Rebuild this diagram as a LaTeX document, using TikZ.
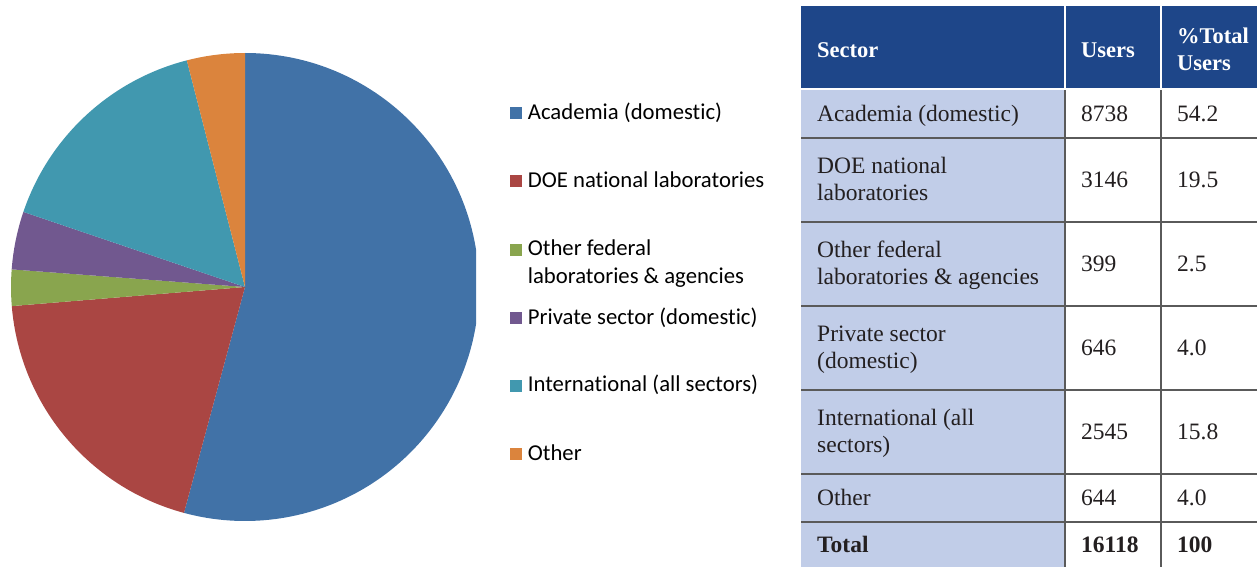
\documentclass[tikz,border=0pt]{standalone}
\usepackage{fontspec}
\newfontfamily\legfont[Ligatures=NoCommon]{Carlito}
\newfontfamily\tabfont{Liberation Serif}
\definecolor{cAcad}{HTML}{4172A7}
\definecolor{cDOE}{HTML}{AA4643}
\definecolor{cFed}{HTML}{89A54E}
\definecolor{cPriv}{HTML}{71588F}
\definecolor{cIntl}{HTML}{4198AF}
\definecolor{cOth}{HTML}{DB843D}
\definecolor{hdrblue}{HTML}{1E4689}
\definecolor{lav}{HTML}{C1CDE8}
\definecolor{grid}{HTML}{5A5A5A}
\definecolor{ink}{HTML}{231F20}
\tikzset{
  legsq/.style={minimum size=12pt, inner sep=0pt, draw=none},
  legtxt/.style={anchor=north west, inner sep=0pt, align=left, text=black,
    font=\legfont\fontsize{22.7}{27.6}\selectfont},
  tabtxt/.style={anchor=north west, inner sep=0pt, align=left, text=ink,
    font=\tabfont\fontsize{23.5}{26.7}\selectfont},
  hdrtxt/.style={anchor=north west, inner sep=0pt, align=left, text=white,
    font=\tabfont\bfseries\fontsize{22.5}{26.7}\selectfont},
  gridline/.style={draw=grid, line width=2pt}
}
\begin{document}
\begin{tikzpicture}[x=1pt,y=1pt]
\useasboundingbox (0,0) rectangle (1257,-567);
% ---------- pie ----------
\coordinate (pc) at (245,-287);
\begin{scope}
\clip (0,0) rectangle (476,-567);
\fill[cAcad] (pc) -- ++(90:234) arc[start angle=90,end angle=-105.12,radius=234] -- cycle;
\fill[cDOE] (pc) -- ++(-105.12:234) arc[start angle=-105.12,end angle=-175.32,radius=234] -- cycle;
\fill[cFed] (pc) -- ++(-175.32:234) arc[start angle=-175.32,end angle=-184.32,radius=234] -- cycle;
\fill[cPriv] (pc) -- ++(-184.32:234) arc[start angle=-184.32,end angle=-198.72,radius=234] -- cycle;
\fill[cIntl] (pc) -- ++(-198.72:234) arc[start angle=-198.72,end angle=-255.6,radius=234] -- cycle;
\fill[cOth] (pc) -- ++(-255.6:234) arc[start angle=-255.6,end angle=-270,radius=234] -- cycle;
\end{scope}
% ---------- legend ----------
\node[legsq,fill=cAcad] (k1) at (515.5,-113.3) {};
\node[legsq,fill=cDOE]  (k2) at (515.5,-181.3) {};
\node[legsq,fill=cFed]  (k3) at (515.5,-249.7) {};
\node[legsq,fill=cPriv] (k4) at (515.5,-318.3) {};
\node[legsq,fill=cIntl] (k5) at (515.5,-385.7) {};
\node[legsq,fill=cOth]  (k6) at (515.5,-454) {};
\node[legtxt] (l1) at (527.7,-100.05) {\strut Academia (domestic)};
\node[legtxt] (l2) at (527.7,-168.05) {\strut DOE national laboratories};
\node[legtxt] (l3) at (527.7,-236.45) {\strut Other federal\\\strut laboratories \& agencies};
\node[legtxt] (l4) at (527.7,-305.05) {\strut Private sector (domestic)};
\node[legtxt] (l5) at (527.7,-372.45) {\strut International (all sectors)};
\node[legtxt] (l6) at (527.7,-440.75) {\strut Other};
% ---------- table ----------
\fill[hdrblue] (801,-6) rectangle (1064,-88.5);
\fill[hdrblue] (1066,-6) rectangle (1160,-88.5);
\fill[hdrblue] (1162,-6) rectangle (1257,-88.5);
\fill[lav] (801,-90.5) rectangle (1064,-567);
\foreach \yy in {138,222,306,390,474,522} {
  \draw[gridline] (801,-\yy) -- (1257,-\yy);
}
\draw[gridline] (1065,-90.5) -- (1065,-567);
\draw[gridline] (1161,-90.5) -- (1161,-567);
% header
\node[hdrtxt] (h1) at (817,-38.3) {\strut Sector};
\node[hdrtxt] (h2) at (1081,-38.3) {\strut Users};
\node[hdrtxt] (h3) at (1177,-24.6) {\strut\%Total\\\strut Users};
% body
\node[tabtxt] (s1) at (817,-103.0) {\strut Academia (domestic)};
\node[tabtxt] (u1) at (1081,-103.0) {\strut 8738};
\node[tabtxt] (p1) at (1177,-103.0) {\strut 54.2};
\node[tabtxt] (s2) at (817,-154.6) {\strut DOE national\\\strut laboratories};
\node[tabtxt] (u2) at (1081,-169.0) {\strut 3146};
\node[tabtxt] (p2) at (1177,-169.0) {\strut 19.5};
\node[tabtxt] (s3) at (817,-238.6) {\strut Other federal\\\strut laboratories \& agencies};
\node[tabtxt] (u3) at (1081,-253.0) {\strut 399};
\node[tabtxt] (p3) at (1177,-253.0) {\strut 2.5};
\node[tabtxt] (s4) at (817,-322.6) {\strut Private sector\\\strut (domestic)};
\node[tabtxt] (u4) at (1081,-337.0) {\strut 646};
\node[tabtxt] (p4) at (1177,-337.0) {\strut 4.0};
\node[tabtxt] (s5) at (817,-406.6) {\strut International (all\\\strut sectors)};
\node[tabtxt] (u5) at (1081,-421.0) {\strut 2545};
\node[tabtxt] (p5) at (1177,-421.0) {\strut 15.8};
\node[tabtxt] (s6) at (817,-487.0) {\strut Other};
\node[tabtxt] (u6) at (1081,-487.0) {\strut 644};
\node[tabtxt] (p6) at (1177,-487.0) {\strut 4.0};
\node[tabtxt,font=\tabfont\bfseries\fontsize{23.5}{26.7}\selectfont] (s7) at (817,-533.8) {\strut Total};
\node[tabtxt,font=\tabfont\bfseries\fontsize{23.5}{26.7}\selectfont] (u7) at (1081,-533.8) {\strut 16118};
\node[tabtxt,font=\tabfont\bfseries\fontsize{23.5}{26.7}\selectfont] (p7) at (1177,-533.8) {\strut 100};
\end{tikzpicture}
\end{document}
